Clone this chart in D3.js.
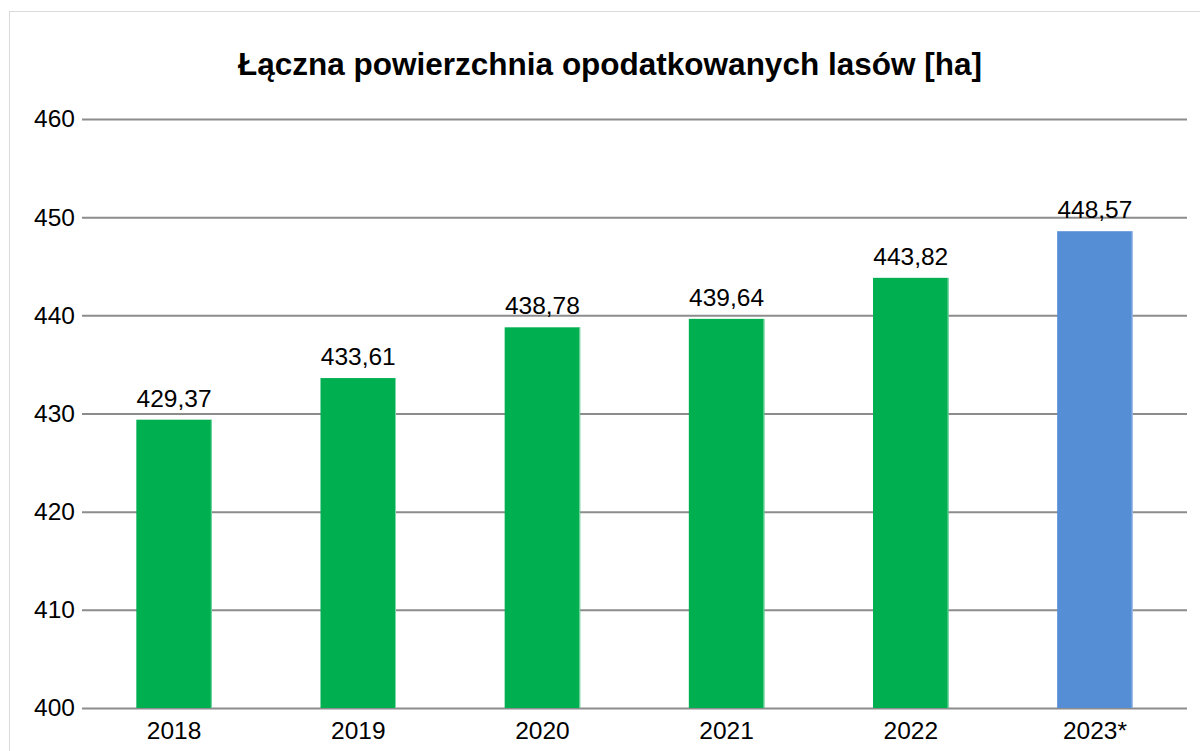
<!DOCTYPE html>
<html><head><meta charset="utf-8">
<script src="https://cdn.jsdelivr.net/npm/d3@7"></script>
<style>body{margin:0;background:#fff}svg{display:block}</style>
</head><body>
<script>
const categories = ["2018","2019","2020","2021","2022","2023*"];
const values = [429.37, 433.61, 438.78, 439.64, 443.82, 448.57];
const labels = ["429,37","433,61","438,78","439,64","443,82","448,57"];
const yTicks = [400,410,420,430,440,450,460];
const title = "Łączna powierzchnia opodatkowanych lasów [ha]";

const W=1200,H=751;
const svg=d3.select("body").append("svg").attr("width",W).attr("height",H);
svg.append("rect").attr("x",9.5).attr("y",11.5).attr("width",1210).attr("height",760)
  .attr("fill","#fff").attr("stroke","#d9d9d9").attr("stroke-width",1);

const x=d3.scaleBand().domain(categories).range([82,1187]).paddingInner(0.59).paddingOuter(0.295);
const y=d3.scaleLinear().domain([400,460]).range([708,119]);
const font="'Liberation Sans', Arial, sans-serif";

svg.append("text").attr("x",610).attr("y",75).attr("text-anchor","middle")
  .attr("font-family",font).attr("font-weight","bold").attr("font-size",31.5).attr("fill","#000").text(title);

const gy=svg.append("g").attr("transform","translate(82,0)")
  .call(d3.axisLeft(y).tickValues(yTicks).tickSize(-(1187-82)).tickPadding(7).tickFormat(d3.format("d")));
gy.select(".domain").remove();
gy.selectAll(".tick line").attr("stroke","#8c8c8c").attr("stroke-width",2);
gy.selectAll(".tick text").attr("font-family",font).attr("font-size",24.5).attr("fill","#000");

const colors = categories.map((c,i)=> i===5 ? "#558ed5" : "#00b050");
const edge = categories.map((c,i)=> i===5 ? "#a9c5ea" : "#7fd8a7");

svg.selectAll("rect.bar").data(values).join("rect").attr("class","bar")
  .attr("x",(d,i)=>x(categories[i])).attr("width",x.bandwidth())
  .attr("y",d=>y(d)).attr("height",d=>y(400)-y(d)).attr("fill",(d,i)=>colors[i]);
svg.selectAll("rect.edge").data(values).join("rect").attr("class","edge")
  .attr("x",(d,i)=>x(categories[i])+x.bandwidth()-1).attr("width",1)
  .attr("y",d=>y(d)).attr("height",d=>y(400)-y(d)).attr("fill",(d,i)=>edge[i]);

svg.selectAll("text.val").data(values).join("text").attr("class","val")
  .attr("x",(d,i)=>x(categories[i])+x.bandwidth()/2).attr("y",d=>y(d)-13)
  .attr("text-anchor","middle").attr("font-family",font).attr("font-size",24.5).attr("fill","#000")
  .text((d,i)=>labels[i]);

const gx=svg.append("g").attr("transform","translate(0,708)")
  .call(d3.axisBottom(x).tickSize(0).tickPadding(14));
gx.select(".domain").remove();
gx.selectAll(".tick text").attr("font-family",font).attr("font-size",24.5).attr("fill","#000");
</script>
</body></html>
